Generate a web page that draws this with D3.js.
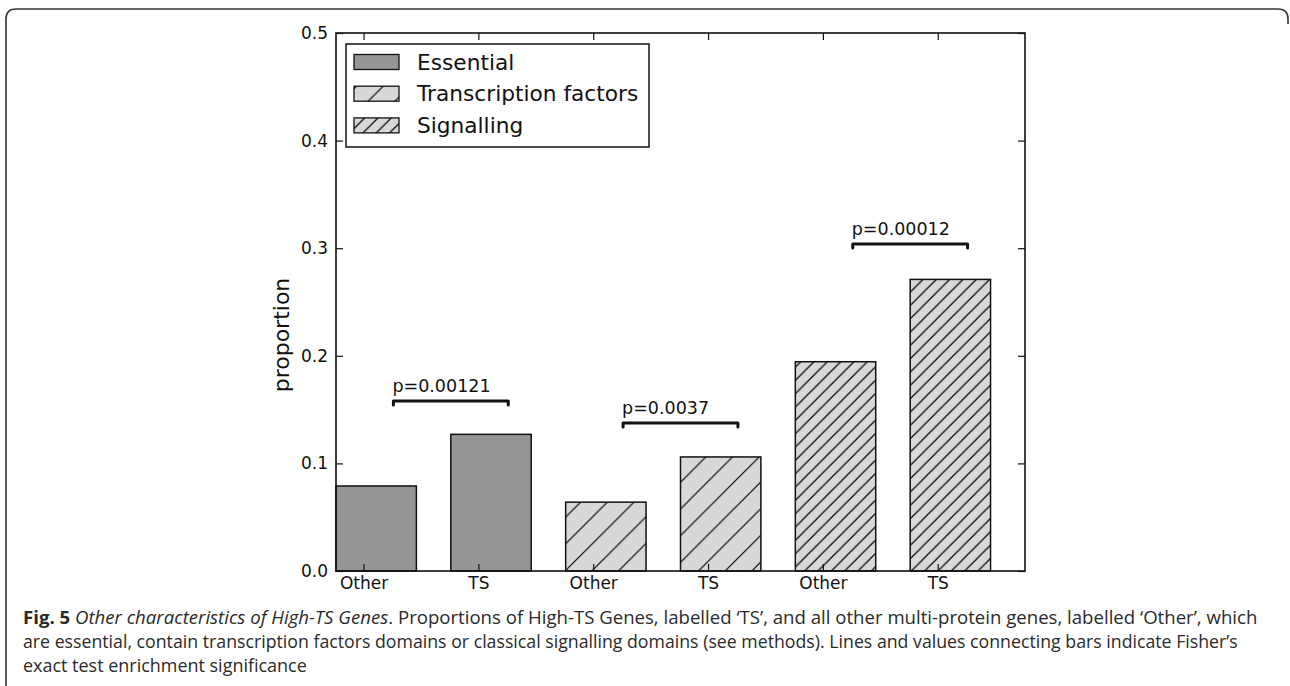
<!DOCTYPE html>
<html>
<head>
<meta charset="utf-8">
<script src="https://cdn.jsdelivr.net/npm/d3@7"></script>
<style>
  html, body { margin: 0; padding: 0; background: #fff; }
  svg { display: block; }
</style>
</head>
<body>
<svg id="chart" width="1290" height="686"></svg>
<script>
// ---- data ----
const categories = ["Other", "TS", "Other", "TS", "Other", "TS"];
const groups = ["Essential", "Transcription factors", "Signalling"];
const values = [0.079, 0.127, 0.064, 0.106, 0.1945, 0.271];
const barGroup = [0, 0, 1, 1, 2, 2];
const pLabels = ["p=0.00121", "p=0.0037", "p=0.00012"];
const pHeights = [0.158, 0.1375, 0.304];
const yTicks = [0.0, 0.1, 0.2, 0.3, 0.4, 0.5];
const captionLines = [
  [["Fig. 5 ", "bold"], ["Other characteristics of High-TS Genes", "italic"], [". Proportions of High-TS Genes, labelled \u2018TS\u2019, and all other multi-protein genes, labelled \u2018Other\u2019, which", "normal"]],
  [["are essential, contain transcription factors domains or classical signalling domains (see methods). Lines and values connecting bars indicate Fisher\u2019s", "normal"]],
  [["exact test enrichment significance", "normal"]]
];

// ---- layout ----
const svg = d3.select("#chart");
const L = 336, R = 1025, T = 33, B = 571;
const x = d3.scaleLinear().domain([0, 6]).range([L, R]);
const y = d3.scaleLinear().domain([0, 0.5]).range([B, T]);
const barW = 0.7, tickOff = 0.24, tickLen = 7;
const fills = ["#969696", "#d8d8d8", "#d8d8d8"];
const hatchSize = [0, 26.67, 13.33];
const ink = "#111";

// outer frame
svg.append("path")
  .attr("d", "M6,686 V19 Q6,9 16,9 H1278 Q1288,9 1288,19 V24")
  .attr("fill", "none").attr("stroke", "#333").attr("stroke-width", 1.6);

// hatch patterns
const defs = svg.append("defs");
[1, 2].forEach(g => {
  const s = hatchSize[g];
  const p = defs.append("pattern")
    .attr("id", "hatch" + g)
    .attr("patternUnits", "userSpaceOnUse")
    .attr("width", s).attr("height", s)
    .attr("x", 16);
  p.append("rect").attr("width", s).attr("height", s).attr("fill", fills[g]);
  p.append("path")
    .attr("d", `M${-s * 0.25},${s * 0.25} l${s * 0.5},${-s * 0.5} M0,${s} l${s},${-s} M${s * 0.75},${s * 1.25} l${s * 0.5},${-s * 0.5}`)
    .attr("stroke", "#000").attr("stroke-width", 1.2);
});
const fillOf = g => g === 0 ? fills[0] : `url(#hatch${g})`;

// bars
svg.append("g").selectAll("rect")
  .data(values)
  .join("rect")
  .attr("x", (d, i) => x(i))
  .attr("width", x(barW) - x(0))
  .attr("y", d => y(d))
  .attr("height", d => y(0) - y(d))
  .attr("fill", (d, i) => fillOf(barGroup[i]))
  .attr("stroke", ink).attr("stroke-width", 1.5);

// axes frame
svg.append("rect")
  .attr("x", L).attr("y", T).attr("width", R - L).attr("height", B - T)
  .attr("fill", "none").attr("stroke", ink).attr("stroke-width", 1.6);

// y ticks (inward, both sides)
const yAxisL = d3.axisLeft(y).tickValues(yTicks).tickFormat(d3.format(".1f")).tickSizeInner(-tickLen).tickSizeOuter(0).tickPadding(8);
const gyl = svg.append("g").attr("transform", `translate(${L},0)`).call(yAxisL);
gyl.select(".domain").remove();
gyl.selectAll("line").attr("stroke", ink).attr("stroke-width", 1.2);
gyl.selectAll("text").attr("font-family", "DejaVu Sans").attr("font-size", 17).attr("fill", ink);

const yAxisR = d3.axisRight(y).tickValues(yTicks).tickFormat("").tickSizeInner(-tickLen).tickSizeOuter(0);
const gyr = svg.append("g").attr("transform", `translate(${R},0)`).call(yAxisR);
gyr.select(".domain").remove();
gyr.selectAll("line").attr("stroke", ink).attr("stroke-width", 1.2);

// x ticks (inward, top and bottom)
const xTickVals = categories.map((c, i) => i + tickOff);
const xAxisB = d3.axisBottom(x).tickValues(xTickVals).tickFormat((d, i) => categories[i]).tickSizeInner(-tickLen).tickSizeOuter(0).tickPadding(6);
const gxb = svg.append("g").attr("transform", `translate(0,${B})`).call(xAxisB);
gxb.select(".domain").remove();
gxb.selectAll("line").attr("stroke", ink).attr("stroke-width", 1.2);
gxb.selectAll("text").attr("font-family", "DejaVu Sans").attr("font-size", 17).attr("fill", ink);

const xAxisT = d3.axisTop(x).tickValues(xTickVals).tickFormat("").tickSizeInner(-tickLen).tickSizeOuter(0);
const gxt = svg.append("g").attr("transform", `translate(0,${T})`).call(xAxisT);
gxt.select(".domain").remove();
gxt.selectAll("line").attr("stroke", ink).attr("stroke-width", 1.2);

// y label
svg.append("text")
  .attr("transform", `translate(289,${(T + B) / 2 + 33}) rotate(-90)`)
  .attr("text-anchor", "middle")
  .attr("font-family", "DejaVu Sans").attr("font-size", 22).attr("fill", ink)
  .text("proportion");

// significance brackets
const br = svg.append("g");
pLabels.forEach((lab, k) => {
  const x1 = x(2 * k + 0.5), x2 = x(2 * k + 1.5), yy = y(pHeights[k]);
  br.append("path")
    .attr("d", `M${x1},${yy + 4} V${yy} H${x2} V${yy + 4}`)
    .attr("fill", "none").attr("stroke", ink).attr("stroke-width", 3)
    .attr("stroke-linejoin", "round").attr("stroke-linecap", "round");
  br.append("text")
    .attr("x", x1 - 1).attr("y", yy - 9)
    .attr("font-family", "DejaVu Sans").attr("font-size", 17.5).attr("fill", ink)
    .text(lab);
});

// legend
const lg = svg.append("g");
lg.append("rect").attr("x", 346).attr("y", 44).attr("width", 303).attr("height", 103)
  .attr("fill", "#fff").attr("stroke", ink).attr("stroke-width", 1.5);
groups.forEach((g, i) => {
  const cy = 62 + i * 31.7;
  lg.append("rect").attr("x", 354).attr("y", cy - 7.5).attr("width", 45).attr("height", 15)
    .attr("fill", fillOf(i)).attr("stroke", ink).attr("stroke-width", 1.3);
  lg.append("text").attr("x", 417).attr("y", cy + 7.5)
    .attr("font-family", "DejaVu Sans").attr("font-size", 21.7).attr("fill", ink)
    .text(g);
});

// caption
const capTargets = [1235, 1215, 284];
const capBase = [624, 648, 672];
captionLines.forEach((parts, li) => {
  const t = svg.append("text")
    .attr("x", 0).attr("y", 0)
    .attr("font-family", "Open Sans").attr("font-size", 18).attr("fill", "#2a2a2a");
  parts.forEach(([txt, sty]) => {
    const ts = t.append("tspan").text(txt);
    if (sty === "bold") ts.attr("font-weight", "bold");
    if (sty === "italic") ts.attr("font-style", "italic");
  });
  const w = t.node().getComputedTextLength();
  const k = capTargets[li] / w;
  t.attr("transform", `translate(23,${capBase[li]}) scale(${k},1)`);
});
</script>
</body>
</html>
